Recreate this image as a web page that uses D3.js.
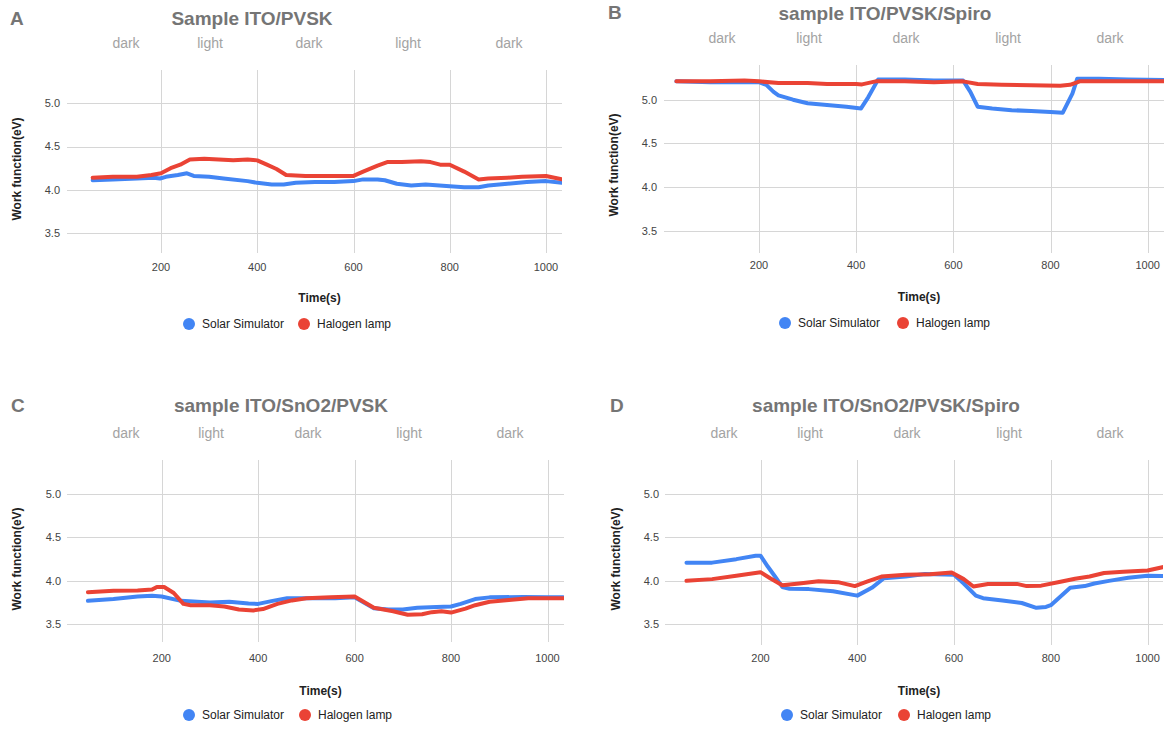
<!DOCTYPE html>
<meta charset="utf-8">
<style>
    body { margin: 0; background: #fff; }
    text { font-family: "Liberation Sans", Arial, sans-serif; }
    .letter, .title { font-size: 19px; font-weight: bold; fill: #757575; }
    .phase { font-size: 14px; fill: #a3a3a3; }
    .grid line { stroke: #d6d6d6; stroke-width: 1px; }
    .tick-label { font-size: 11px; fill: #444; }
    .axis-title { font-size: 12px; font-weight: bold; fill: #222; }
    .legend text { font-size: 12px; fill: #222; }
    .series { fill: none; stroke-width: 4px; stroke-linejoin: round; stroke-linecap: round; }
</style>
<body>
    <svg width="1166" height="729"></svg>
</body>
<script src="https://cdn.jsdelivr.net/npm/d3@7"></script>
<script>

    // ---- data ----
    var panelLetters = ["A", "B", "C", "D"];
    var panelTitles = ["Sample ITO/PVSK", "sample ITO/PVSK/Spiro", "sample ITO/SnO2/PVSK", "sample ITO/SnO2/PVSK/Spiro"];
    var phaseLabels = ["dark", "light", "dark", "light", "dark"];
    var seriesNames = ["Solar Simulator", "Halogen lamp"];
    var seriesColors = ["#4285f4", "#ea4335"];
    var timeTicks = [200, 400, 600, 800, 1000];
    var workTicks = [3.5, 4.0, 4.5, 5.0];

    // [time (s), work function (eV)]
    var solarA = [[58,4.11],[100,4.12],[150,4.13],[185,4.14],[198,4.13],[210,4.15],[235,4.17],[254,4.19],[268,4.16],[300,4.15],[330,4.13],[380,4.10],[400,4.08],[430,4.06],[455,4.06],[480,4.08],[520,4.09],[560,4.09],[600,4.10],[620,4.12],[650,4.12],[665,4.11],[690,4.07],[720,4.05],[750,4.06],[800,4.04],[830,4.03],[860,4.03],[880,4.05],[920,4.07],[960,4.09],[1000,4.10],[1033,4.08]];
    var halogenA = [[58,4.14],[100,4.15],[150,4.15],[180,4.17],[200,4.19],[220,4.25],[240,4.29],[260,4.35],[290,4.36],[320,4.35],[350,4.34],[380,4.35],[400,4.34],[420,4.29],[440,4.24],[460,4.17],[500,4.16],[550,4.16],[600,4.16],[620,4.21],[650,4.28],[670,4.32],[700,4.32],[740,4.33],[760,4.32],[780,4.29],[800,4.29],[830,4.21],[860,4.12],[880,4.13],[920,4.14],[950,4.15],[1000,4.16],[1033,4.12]];

    var solarB = [[30,5.21],[100,5.20],[150,5.20],[200,5.20],[215,5.17],[230,5.09],[240,5.05],[270,5.00],[300,4.96],[340,4.94],[380,4.92],[410,4.90],[425,5.03],[445,5.23],[500,5.23],[560,5.22],[620,5.22],[635,5.09],[650,4.92],[680,4.90],[720,4.88],[760,4.87],[800,4.86],[825,4.85],[845,5.07],[855,5.24],[900,5.24],[960,5.23],[1033,5.225]];
    var halogenB = [[30,5.21],[100,5.21],[170,5.22],[200,5.21],[240,5.19],[300,5.19],[340,5.18],[400,5.18],[412,5.175],[440,5.21],[500,5.21],[560,5.20],[620,5.21],[650,5.18],[700,5.17],[760,5.165],[820,5.16],[840,5.17],[860,5.21],[900,5.21],[960,5.21],[1033,5.21]];

    var solarC = [[47,3.77],[100,3.79],[150,3.82],[180,3.83],[200,3.82],[240,3.77],[300,3.75],[340,3.76],[380,3.74],[400,3.735],[430,3.77],[460,3.80],[500,3.80],[560,3.80],[600,3.81],[640,3.685],[670,3.67],[700,3.67],[730,3.69],[770,3.70],[800,3.705],[820,3.735],[850,3.79],[880,3.81],[950,3.815],[1000,3.81],[1033,3.81]];
    var halogenC = [[47,3.87],[100,3.885],[150,3.89],[180,3.90],[190,3.93],[205,3.93],[225,3.86],[245,3.735],[260,3.72],[300,3.72],[330,3.705],[360,3.67],[390,3.66],[410,3.675],[440,3.735],[470,3.775],[500,3.80],[550,3.81],[600,3.82],[640,3.69],[680,3.65],[710,3.61],[740,3.615],[760,3.64],[780,3.65],[800,3.635],[830,3.68],[850,3.72],[880,3.76],[920,3.78],[960,3.80],[1000,3.80],[1033,3.80]];

    var solarD = [[47,4.21],[100,4.21],[150,4.25],[190,4.29],[200,4.29],[215,4.165],[230,4.05],[245,3.93],[260,3.91],[300,3.905],[350,3.88],[400,3.83],[430,3.92],[455,4.03],[500,4.05],[540,4.08],[600,4.07],[620,3.97],[645,3.83],[660,3.80],[700,3.775],[740,3.745],[770,3.69],[790,3.70],[800,3.72],[820,3.82],[840,3.92],[870,3.94],[890,3.97],[920,4.00],[960,4.035],[1000,4.06],[1033,4.055]];
    var halogenD = [[47,4.00],[100,4.02],[150,4.06],[200,4.10],[220,4.03],[245,3.95],[280,3.97],[320,3.995],[360,3.985],[395,3.94],[420,3.99],[450,4.05],[500,4.07],[550,4.075],[595,4.095],[620,4.02],[640,3.935],[670,3.965],[730,3.965],[750,3.94],[780,3.945],[820,3.99],[850,4.025],[880,4.05],[910,4.09],[950,4.105],[1000,4.12],[1033,4.16]];

    var panelSeries = [[solarA, halogenA], [solarB, halogenB], [solarC, halogenC], [solarD, halogenD]];

    // ---- layout of each panel (pixels) ----
    var layouts = [
        { lx: 10, ly: 18, tx: 252, ty: 18, phaseY: 43, phaseX: [126, 210, 309, 408, 509],
          left: 67, right: 562, x200: 161, x1000: 546, top: 70, bottom: 253, y50: 103.3, y35: 233,
          tickY: 267, xTitleY: 298, legendY: 324, legendX: [189, 304], yTitleX: 17, yTitleY: 169, yLabelX: 60 },
        { lx: 608, ly: 12, tx: 885, ty: 13, phaseY: 38, phaseX: [722, 809, 906, 1008, 1110],
          left: 664, right: 1164, x200: 759, x1000: 1147.7, top: 65, bottom: 253, y50: 99.7, y35: 230.7,
          tickY: 265, xTitleY: 297, legendY: 323, legendX: [785, 903], yTitleX: 614, yTitleY: 165, yLabelX: 657 },
        { lx: 11, ly: 405, tx: 281, ty: 405, phaseY: 433, phaseX: [126, 211, 308, 409, 510],
          left: 67, right: 564, x200: 161.7, x1000: 547.5, top: 460, bottom: 642, y50: 494, y35: 624.3,
          tickY: 658, xTitleY: 691, legendY: 715, legendX: [189, 305], yTitleX: 17, yTitleY: 559, yLabelX: 61 },
        { lx: 610, ly: 405, tx: 886, ty: 405, phaseY: 433, phaseX: [724, 810, 907, 1009, 1110],
          left: 665, right: 1163, x200: 760.5, x1000: 1147.6, top: 460, bottom: 645, y50: 494, y35: 624.3,
          tickY: 658, xTitleY: 691, legendY: 715, legendX: [787, 904], yTitleX: 616, yTitleY: 559, yLabelX: 659 }
    ];

    var svg = d3.select("svg");

    layouts.forEach(function (L, i) {
        var g = svg.append("g");

        var x = d3.scaleLinear().domain([200, 1000]).range([L.x200, L.x1000]);
        var y = d3.scaleLinear().domain([3.5, 5.0]).range([L.y35, L.y50]);

        // letter + title
        g.append("text").attr("class", "letter")
            .attr("x", L.lx).attr("y", L.ly).attr("dy", "0.35em")
            .text(panelLetters[i]);
        g.append("text").attr("class", "title")
            .attr("x", L.tx).attr("y", L.ty).attr("dy", "0.35em")
            .style("text-anchor", "middle")
            .text(panelTitles[i]);

        // dark / light labels
        g.selectAll(".phase")
            .data(phaseLabels)
            .enter().append("text")
            .attr("class", "phase")
            .attr("x", function (d, j) { return L.phaseX[j]; })
            .attr("y", L.phaseY).attr("dy", "0.35em")
            .style("text-anchor", "middle")
            .text(function (d) { return d; });

        // grid
        var grid = g.append("g").attr("class", "grid");
        grid.selectAll(".vg")
            .data(timeTicks)
            .enter().append("line")
            .attr("x1", function (d) { return Math.round(x(d)) + 0.5; })
            .attr("x2", function (d) { return Math.round(x(d)) + 0.5; })
            .attr("y1", L.top).attr("y2", L.bottom);
        grid.selectAll(".hg")
            .data(workTicks)
            .enter().append("line")
            .attr("x1", L.left).attr("x2", L.right)
            .attr("y1", function (d) { return Math.round(y(d)) + 0.5; })
            .attr("y2", function (d) { return Math.round(y(d)) + 0.5; });

        // tick labels
        g.selectAll(".xl")
            .data(timeTicks)
            .enter().append("text")
            .attr("class", "tick-label")
            .attr("x", function (d) { return x(d); })
            .attr("y", L.tickY).attr("dy", "0.35em")
            .style("text-anchor", "middle")
            .text(function (d) { return d; });
        g.selectAll(".yl")
            .data(workTicks)
            .enter().append("text")
            .attr("class", "tick-label")
            .attr("x", L.yLabelX)
            .attr("y", function (d) { return y(d); }).attr("dy", "0.35em")
            .style("text-anchor", "end")
            .text(function (d) { return d3.format(".1f")(d); });

        // axis titles
        g.append("text").attr("class", "axis-title")
            .attr("x", (L.left + L.right) / 2 + 5).attr("y", L.xTitleY).attr("dy", "0.35em")
            .style("text-anchor", "middle")
            .text("Time(s)");
        g.append("text").attr("class", "axis-title")
            .attr("transform", "translate(" + L.yTitleX + "," + L.yTitleY + ") rotate(-90)")
            .attr("dy", "0.35em")
            .style("text-anchor", "middle")
            .text("Work function(eV)");

        // series, clipped to the chart area
        var clipId = "clip" + i;
        g.append("clipPath").attr("id", clipId)
            .append("rect")
            .attr("x", L.left).attr("y", L.top)
            .attr("width", L.right - L.left).attr("height", L.bottom - L.top);

        var line = d3.line()
            .x(function (d) { return x(d[0]); })
            .y(function (d) { return y(d[1]); });

        g.append("g").attr("clip-path", "url(#" + clipId + ")")
            .selectAll(".series")
            .data(panelSeries[i])
            .enter().append("path")
            .attr("class", "series")
            .style("stroke", function (d, j) { return seriesColors[j]; })
            .attr("d", line);

        // legend
        var legend = g.selectAll(".legend")
            .data(seriesNames)
            .enter().append("g")
            .attr("class", "legend")
            .attr("transform", function (d, j) { return "translate(" + L.legendX[j] + "," + L.legendY + ")"; });
        legend.append("circle")
            .attr("r", 6)
            .style("fill", function (d, j) { return seriesColors[j]; });
        legend.append("text")
            .attr("x", 13).attr("dy", "0.35em")
            .text(function (d) { return d; });
    });
</script>
